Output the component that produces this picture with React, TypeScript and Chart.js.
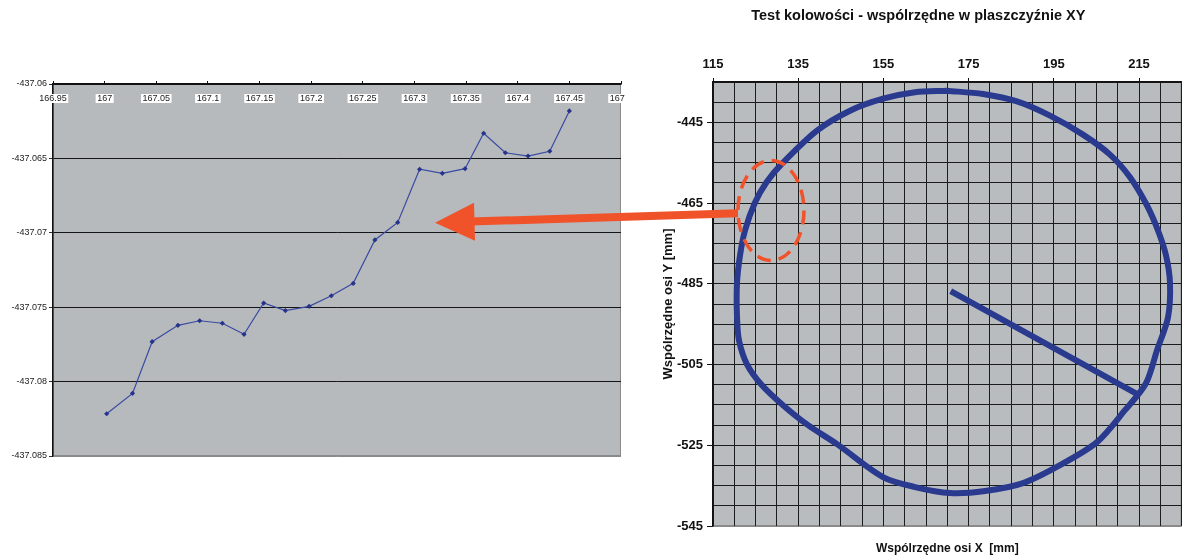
import React, { useEffect, useRef } from 'react';
import { Chart, registerables } from 'chart.js';

Chart.register(...registerables);

const FONT = "'Liberation Sans', Arial, sans-serif";

// ---- Left chart (zoomed fragment) ----
const leftX = [167.002, 167.027, 167.046, 167.071, 167.092, 167.114, 167.135, 167.154, 167.175, 167.198, 167.2195, 167.2407, 167.2617, 167.2838, 167.305, 167.327, 167.349, 167.367, 167.388, 167.41, 167.431, 167.45];
const leftY = [-437.08216, -437.08079, -437.07732, -437.07622, -437.07591, -437.07608, -437.07682, -437.07472, -437.07523, -437.07494, -437.07423, -437.0734, -437.07048, -437.0693, -437.06573, -437.066, -437.06569, -437.06331, -437.06462, -437.06484, -437.06452, -437.06181];
const leftXTicks = [166.95, 167, 167.05, 167.1, 167.15, 167.2, 167.25, 167.3, 167.35, 167.4, 167.45, 167.5];
const leftYTicks = [-437.085, -437.08, -437.075, -437.07, -437.065, -437.06];

// ---- Right chart (circularity test) ----
const circleX = [169.93, 178.38, 186.36, 194.11, 201.85, 208.19, 212.89, 216.88, 219.46, 221.34, 222.28, 221.81, 219.23, 216.64, 211.71, 205.14, 196.46, 187.77, 178.85, 170.63, 162.42, 154.91, 144.11, 137.3, 131.43, 126.5, 122.98, 121.1, 120.63, 120.63, 121.34, 122.51, 124.86, 127.68, 131.2, 139.41, 147.16, 154.91, 162.42, 169.93];
const circleY = [-437.16, -437.98, -439.81, -443.34, -448.04, -452.99, -458.6, -465.6, -471.79, -477.97, -484.9, -493.31, -501.47, -509.63, -516.31, -524.22, -529.91, -534.36, -536.34, -536.84, -535.35, -532.88, -524.72, -520.02, -515.07, -510.13, -504.93, -499, -493.06, -484.9, -477.97, -471.79, -464.86, -459.67, -455.22, -447.05, -442.11, -439.14, -437.53, -437.16];
const radiusX = [170.8, 214.6];
const radiusY = [-486.8, -512.35];
const rightXGrid = [115, 120, 125, 130, 135, 140, 145, 150, 155, 160, 165, 170, 175, 180, 185, 190, 195, 200, 205, 210, 215, 220, 225];
const rightXLabels = [115, 135, 155, 175, 195, 215];
const rightYGrid = [-545, -540, -535, -530, -525, -520, -515, -510, -505, -500, -495, -490, -485, -480, -475, -470, -465, -460, -455, -450, -445, -440, -435];
const rightYLabels = [-545, -525, -505, -485, -465, -445];

const plotBg = (fill: string, edge: string) => ({
  id: 'plotBg',
  beforeDraw(chart: any) {
    const { ctx, chartArea: a } = chart;
    ctx.save();
    ctx.fillStyle = fill;
    ctx.fillRect(a.left, a.top, a.right - a.left, a.bottom - a.top);
    ctx.strokeStyle = edge;
    ctx.lineWidth = 1;
    ctx.strokeRect(a.left + 0.5, a.top + 0.5, a.right - a.left - 1, a.bottom - a.top - 1);
    ctx.restore();
  },
});

// x tick labels of the left chart sit inside the plot, in white boxes
const insideXLabels = {
  id: 'insideXLabels',
  afterDraw(chart: any) {
    const { ctx, chartArea } = chart;
    const x = chart.scales.x;
    const cy = chartArea.top + 14.5;
    ctx.save();
    ctx.font = `9px ${FONT}`;
    ctx.textAlign = 'center';
    ctx.textBaseline = 'middle';
    leftXTicks.forEach((v) => {
      const px = x.getPixelForValue(v);
      const t = String(v);
      const w = ctx.measureText(t).width + 3;
      ctx.fillStyle = '#ffffff';
      ctx.fillRect(px - w / 2, cy - 4.5, w, 9);
      ctx.fillStyle = '#222222';
      ctx.fillText(t, px, cy + 0.5);
    });
    ctx.restore();
  },
};

const toPts = (xs: number[], ys: number[]) => xs.map((x, i) => ({ x, y: ys[i] }));

export default function App() {
  const leftRef = useRef<HTMLCanvasElement>(null);
  const rightRef = useRef<HTMLCanvasElement>(null);

  useEffect(() => {
    const left = new Chart(leftRef.current!, {
      type: 'scatter',
      data: {
        datasets: [
          {
            data: toPts(leftX, leftY),
            showLine: true,
            borderColor: '#3b4aa3',
            borderWidth: 1.2,
            pointStyle: 'rectRot',
            pointRadius: 2.6,
            pointBackgroundColor: '#25338a',
            pointBorderColor: '#25338a',
            pointBorderWidth: 0,
          },
        ],
      },
      options: {
        animation: false,
        responsive: false,
        layout: { padding: { left: 0, top: 0, right: 3, bottom: 14 } },
        plugins: { legend: { display: false }, tooltip: { enabled: false } },
        scales: {
          x: {
            type: 'linear',
            position: 'top',
            min: 166.95,
            max: 167.5,
            afterBuildTicks: (s: any) => { s.ticks = leftXTicks.map((v) => ({ value: v })); },
            afterFit: (s: any) => { s.height = 84; s.paddingLeft = 0; s.paddingRight = 0; },
            ticks: { display: false, autoSkip: false },
            grid: { drawOnChartArea: false, drawTicks: true, tickLength: 3, tickColor: '#111' },
            border: { display: true, color: '#111', width: 1.5 },
          },
          y: {
            type: 'linear',
            min: -437.085,
            max: -437.06,
            afterBuildTicks: (s: any) => { s.ticks = leftYTicks.map((v) => ({ value: v })); },
            afterFit: (s: any) => { s.width = 53; s.paddingTop = 0; s.paddingBottom = 0; },
            ticks: {
              autoSkip: false,
              padding: 2,
              font: { size: 9, family: FONT },
              color: '#222',
              callback: (v: any) => String(v),
            },
            grid: {
              color: (c: any) => (c.tick && c.tick.value === -437.085 ? '#8a8a8a' : '#151515'),
              lineWidth: 1,
              tickLength: 4,
              tickColor: '#333',
            },
            border: { display: true, color: '#111', width: 1.5 },
          },
        },
      },
      plugins: [plotBg('#b6babd', '#8a8a8a'), insideXLabels],
    } as any);

    const right = new Chart(rightRef.current!, {
      type: 'scatter',
      data: {
        datasets: [
          {
            data: toPts(circleX, circleY),
            showLine: true,
            borderColor: '#2a3a8f',
            borderWidth: 6,
            tension: 0.3,
            borderJoinStyle: 'round',
            pointRadius: 0,
          },
          {
            data: toPts(radiusX, radiusY),
            showLine: true,
            borderColor: '#2a3a8f',
            borderWidth: 6,
            pointRadius: 0,
          },
        ],
      },
      options: {
        animation: false,
        responsive: false,
        layout: { padding: { left: 0, top: 0, right: 1.4, bottom: 0 } },
        plugins: {
          legend: { display: false },
          tooltip: { enabled: false },
          title: {
            display: true,
            text: 'Test kolowości - wspólrzędne w plaszczyźnie XY',
            font: { size: 14.5, weight: 'bold', family: FONT },
            color: '#111',
            padding: { top: 7, bottom: 0 },
          },
        },
        scales: {
          x: {
            type: 'linear',
            position: 'top',
            min: 115,
            max: 225,
            afterBuildTicks: (s: any) => { s.ticks = rightXGrid.map((v) => ({ value: v })); },
            afterFit: (s: any) => { s.height = 82 - 7 - 14.5 * 1.2; s.paddingLeft = 0; s.paddingRight = 0; },
            ticks: {
              autoSkip: false,
              maxRotation: 0,
              minRotation: 0,
              padding: 6,
              font: { size: 13, weight: 'bold', family: FONT },
              color: '#111',
              callback: (v: any) => (rightXLabels.includes(v) ? String(v) : ''),
            },
            grid: {
              color: '#1c1c1c',
              lineWidth: 1,
              tickLength: 4,
              tickColor: (c: any) => (c.tick && rightXLabels.includes(c.tick.value) ? '#111' : 'rgba(0,0,0,0)'),
            },
            border: { display: true, color: '#111', width: 1.5 },
          },
          x2: {
            type: 'linear',
            position: 'bottom',
            min: 115,
            max: 225,
            display: true,
            afterFit: (s: any) => { s.height = 29; s.paddingLeft = 0; s.paddingRight = 0; },
            ticks: { display: false },
            grid: { display: false, drawTicks: false },
            border: { display: false },
            title: {
              display: true,
              text: 'Wspólrzędne osi X  [mm]',
              font: { size: 12, weight: 'bold', family: FONT, lineHeight: 1 },
              color: '#111',
              padding: 0,
            },
          },
          y: {
            type: 'linear',
            position: 'left',
            min: -545,
            max: -435,
            afterBuildTicks: (s: any) => { s.ticks = rightYGrid.map((v) => ({ value: v })); },
            afterFit: (s: any) => { s.width = 58; s.paddingTop = 0; s.paddingBottom = 0; },
            ticks: {
              autoSkip: false,
              padding: 4,
              font: { size: 13, weight: 'bold', family: FONT },
              color: '#111',
              callback: (v: any) => (rightYLabels.includes(v) ? String(v) : ''),
            },
            grid: {
              color: (c: any) => (c.tick && c.tick.value === -545 ? '#8a8a8a' : '#1c1c1c'),
              lineWidth: 1,
              tickLength: 6,
              tickColor: (c: any) => (c.tick && rightYLabels.includes(c.tick.value) ? '#111' : 'rgba(0,0,0,0)'),
            },
            border: { display: true, color: '#111', width: 1.5 },
            title: {
              display: true,
              text: 'Wspólrzędne osi Y [mm]',
              font: { size: 13, weight: 'bold', family: FONT },
              color: '#111',
              padding: { top: 6, bottom: 0 },
            },
          },
        },
      },
      plugins: [plotBg('#b8bcbf', '#8a8a8a')],
    } as any);

    return () => {
      left.destroy();
      right.destroy();
    };
  }, []);

  const orange = '#f0522a';

  return (
    <div style={{ position: 'absolute', left: 0, top: 0, width: 1183, height: 555, background: '#fff', overflow: 'hidden' }}>
      <div style={{ position: 'absolute', left: 0, top: 0, width: 625, height: 470 }}>
        <canvas ref={leftRef} width={625} height={470} style={{ width: 625, height: 470, display: 'block' }} />
      </div>
      <div style={{ position: 'absolute', left: 655, top: 0, width: 528, height: 555 }}>
        <canvas ref={rightRef} width={528} height={555} style={{ width: 528, height: 555, display: 'block' }} />
      </div>
      <svg
        width={1183}
        height={555}
        style={{ position: 'absolute', left: 0, top: 0, pointerEvents: 'none' }}
      >
        <ellipse cx={771} cy={210.5} rx={33} ry={50} fill="none" stroke={orange} strokeWidth={3.5} strokeDasharray="14 8" />
        <polygon points="738,209.3 738,217.3 470,225.6 470,217.6" fill={orange} />
        <polygon points="435,222.7 474,202.7 475,240.7" fill={orange} />
      </svg>
    </div>
  );
}
